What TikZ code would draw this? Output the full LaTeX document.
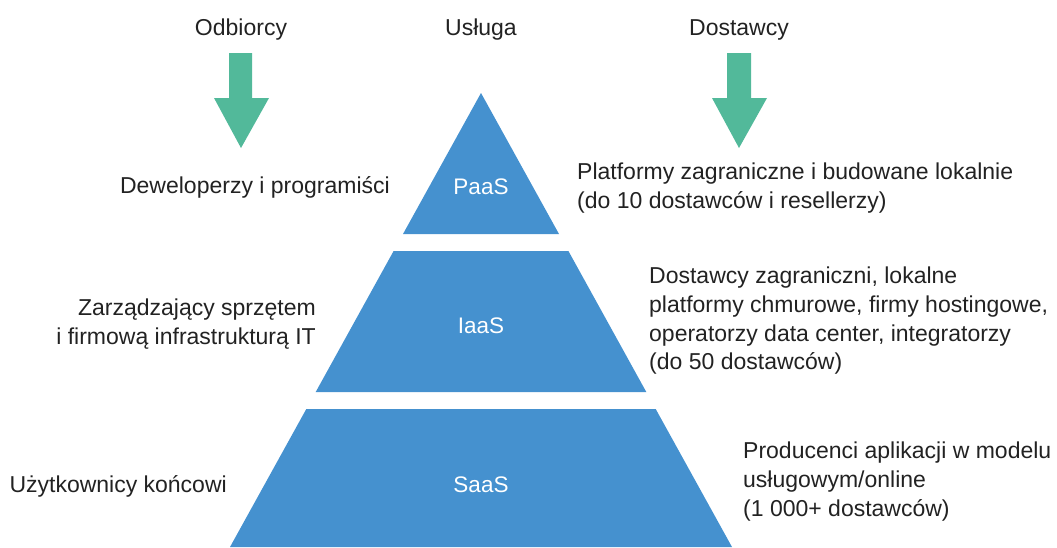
\documentclass[tikz,border=0pt]{standalone}
\usepackage{fontspec}
\setmainfont{Liberation Sans}
\definecolor{pyr}{HTML}{4591CF}
\definecolor{arr}{HTML}{52B99A}
\definecolor{txt}{HTML}{222222}
\begin{document}
\begin{tikzpicture}[x=1pt,y=-1pt,
  lbl/.style={inner sep=0pt,text=txt,font=\fontsize{23}{28.6}\selectfont},
  tier/.style={fill=pyr,draw=none},
  tierlbl/.style={inner sep=0pt,text=white,font=\fontsize{22.5}{28.5}\selectfont},
  greenarrow/.style={fill=arr,draw=none}]
\useasboundingbox (0,0) rectangle (1057,547);
% pyramid tiers
\fill[tier] (481,93) -- (559,234) -- (403,234) -- cycle;
\fill[tier] (393.6,251) -- (568.4,251) -- (646.3,392) -- (315.7,392) -- cycle;
\fill[tier] (306.3,409) -- (655.7,409) -- (732,547) -- (230,547) -- cycle;
% arrows
\fill[greenarrow] (229,53) -- (252,53) -- (252,98) -- (269,98) -- (241,148) -- (214,98) -- (229,98) -- cycle;
\fill[greenarrow] (727,53) -- (751,53) -- (751,98) -- (767,98) -- (739,148) -- (712,98) -- (727,98) -- cycle;
% headings
\node[lbl,anchor=base] (odb) at (241,35) {Odbiorcy};
\node[lbl,anchor=base] (usl) at (481,35) {Usługa};
\node[lbl,anchor=base] (dos) at (739,35) {Dostawcy};
% tier labels
\node[tierlbl,anchor=base] (paas) at (481,194) {PaaS};
\node[tierlbl,anchor=base] (iaas) at (481,333) {IaaS};
\node[tierlbl,anchor=base] (saas) at (481,492) {SaaS};
% left texts
\node[lbl,anchor=base east] (dev) at (390,193) {Deweloperzy i programiści};
\node[lbl,anchor=north east,align=right] (zarz) at (316,299) {Zarządzający sprzętem\\i firmową infrastrukturą IT};
\node[lbl,anchor=base east] (uzyt) at (227,492) {Użytkownicy końcowi};
% right texts
\node[lbl,anchor=north west,align=left] (plat) at (577,163) {Platformy zagraniczne i budowane lokalnie\\(do 10 dostawców i resellerzy)};
\node[lbl,anchor=north west,align=left] (dz) at (649,267) {Dostawcy zagraniczni, lokalne\\platformy chmurowe, firmy hostingowe,\\operatorzy data center, integratorzy\\(do 50 dostawców)};
\node[lbl,anchor=north west,align=left] (prod) at (743,442) {Producenci aplikacji w modelu\\usługowym/online\\(1 000+ dostawców)};
\end{tikzpicture}
\end{document}
